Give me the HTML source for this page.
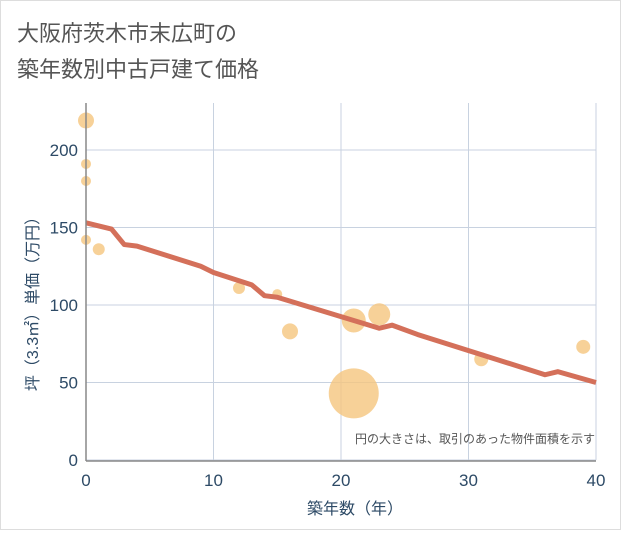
<!DOCTYPE html>
<html><head><meta charset="utf-8"><style>
body{margin:0;background:#fff;}
svg text{font-family:"Liberation Sans","Noto Sans CJK JP",sans-serif;}
</style></head><body>
<svg id="chart" width="621" height="530" xmlns="http://www.w3.org/2000/svg">
<rect x="0.5" y="0.5" width="620" height="529" fill="#fff" stroke="#ddd"/>
<text x="17" y="41" font-size="22" fill="#555">大阪府茨木市末広町の</text>
<text x="17" y="77" font-size="22" fill="#555">築年数別中古戸建て価格</text>
<g id="grid"></g>
<g id="bubbles"></g>
<path id="trend" fill="none" stroke="#d4705a" stroke-width="5" stroke-linejoin="round"/>
<line x1="86" y1="103" x2="86" y2="461" stroke="#888" stroke-width="1.5"/>
<line x1="86" y1="461" x2="596" y2="461" stroke="#888" stroke-width="1.5"/>
<g id="ticks"></g>
<text x="595" y="443" font-size="12" fill="#555" text-anchor="end">円の大きさは、取引のあった物件面積を示す</text>
<text x="355" y="514" font-size="16" fill="#2d4a66" text-anchor="middle">築年数（年）</text>
<text transform="translate(38,300) rotate(-90)" font-size="16" fill="#2d4a66" text-anchor="middle">坪（3.3㎡）単価（万円）</text>
</svg>
<script>
const xTicks=[0,10,20,30,40];
const yTicks=[0,50,100,150,200];
const bubbleX=[0,0,0,0,1,12,15,16,21,21,23,31,39];
const bubbleY=[219,191,180,142,136,111,107,83,90,43,94,65,73];
const bubbleR=[8,5,5,5,6,6,5,8,12,25,11,7,7];
const lineX=[0,2,3,4,9,10,13,14,15,21,23,24,26,36,37,40];
const lineY=[153,149,139,138,125,121,113,106,105,90,85,87,81,55,57,50];
const sx=v=>86+v*12.75;
const sy=v=>460-v*1.55;
const NS="http://www.w3.org/2000/svg";
const grid=document.getElementById('grid'),ticks=document.getElementById('ticks');
xTicks.forEach(t=>{
 const l=document.createElementNS(NS,'line');
 l.setAttribute('x1',sx(t));l.setAttribute('x2',sx(t));l.setAttribute('y1',103);l.setAttribute('y2',460);
 l.setAttribute('stroke','#c8d2e0');
 
 
 grid.appendChild(l);
 const tx=document.createElementNS(NS,'text');
 tx.setAttribute('x',sx(t));tx.setAttribute('y',486);tx.setAttribute('text-anchor','middle');
 tx.setAttribute('font-size','17');tx.setAttribute('fill','#2d4a66');tx.textContent=t;
 
 
 ticks.appendChild(tx);
});
yTicks.forEach(t=>{
 const l=document.createElementNS(NS,'line');
 l.setAttribute('x1',86);l.setAttribute('x2',596);l.setAttribute('y1',sy(t));l.setAttribute('y2',sy(t));
 l.setAttribute('stroke','#c8d2e0');
 
 
 grid.appendChild(l);
 const tx=document.createElementNS(NS,'text');
 tx.setAttribute('x',78);tx.setAttribute('y',sy(t)+6);tx.setAttribute('text-anchor','end');
 tx.setAttribute('font-size','17');tx.setAttribute('fill','#2d4a66');tx.textContent=t;
 
 
 ticks.appendChild(tx);
});
const bg=document.getElementById('bubbles');
bubbleX.forEach((x,i)=>{
 const c=document.createElementNS(NS,'circle');
 c.setAttribute('cx',sx(x));c.setAttribute('cy',sy(bubbleY[i]));c.setAttribute('r',bubbleR[i]);
 c.setAttribute('fill','#f5c57e');c.setAttribute('fill-opacity','0.8');
 
 
 bg.appendChild(c);
});
document.getElementById('trend').setAttribute('d',lineX.map((x,i)=>(i?'L':'M')+sx(x)+','+sy(lineY[i])).join(''));
</script>
</body></html>
